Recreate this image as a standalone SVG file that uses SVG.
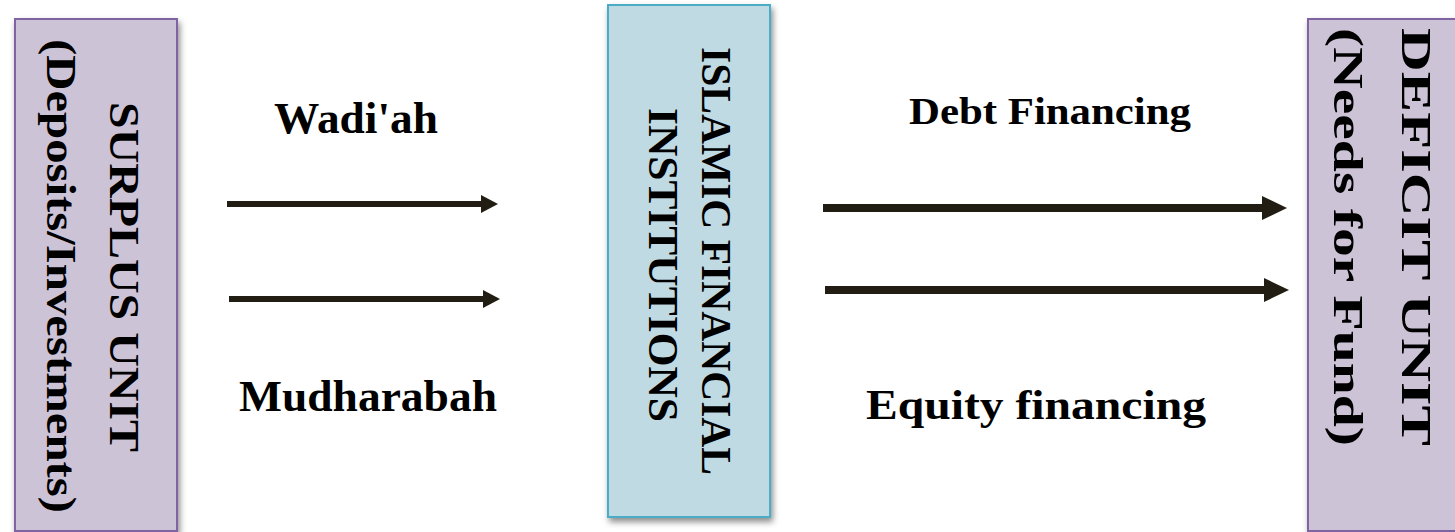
<svg xmlns="http://www.w3.org/2000/svg" width="1455" height="532" viewBox="0 0 1455 532">
  <style>
    .unit { fill: #ccc3d7; stroke: #8064a2; stroke-width: 2; }
    .inst { fill: #c0dae3; stroke: #4bacc6; stroke-width: 2; }
    .vt { font-family: "Liberation Serif", "Times New Roman", serif; font-weight: bold; fill: #000; text-anchor: middle; }
    .lbl { font-family: "Liberation Serif", "Times New Roman", serif; font-weight: bold; fill: #000; }
    .arr { stroke: #211d12; fill: none; }
    .head { fill: #211d12; }
  </style>
  <defs>
    <filter id="sh" x="-10%" y="-5%" width="130%" height="115%">
      <feDropShadow dx="2" dy="4" stdDeviation="3" flood-color="#000" flood-opacity="0.45"/>
    </filter>
    <marker id="ahS" markerUnits="userSpaceOnUse" markerWidth="17" markerHeight="18" refX="0" refY="9" orient="auto">
      <path class="head" d="M0,0 L17,9 L0,18 Z"/>
    </marker>
    <marker id="ahL" markerUnits="userSpaceOnUse" markerWidth="25" markerHeight="24" refX="0" refY="12" orient="auto">
      <path class="head" d="M0,0 L25,12 L0,24 Z"/>
    </marker>
  </defs>

  <g id="surplus">
    <rect class="unit" x="15" y="19" width="162" height="512" filter="url(#sh)"/>
    <text class="vt" font-size="43" transform="translate(110,277) rotate(90)" textLength="350" lengthAdjust="spacingAndGlyphs">SURPLUS UNIT</text>
    <text class="vt" font-size="43" transform="translate(47,276) rotate(90)" textLength="474" lengthAdjust="spacingAndGlyphs">(Deposits/Investments)</text>
  </g>

  <g id="institutions">
    <rect class="inst" x="608" y="5" width="162" height="512" filter="url(#sh)"/>
    <text class="vt" font-size="42" transform="translate(702,261) rotate(90)" textLength="428" lengthAdjust="spacingAndGlyphs">ISLAMIC FINANCIAL</text>
    <text class="vt" font-size="42" transform="translate(649,265) rotate(90)" textLength="314" lengthAdjust="spacingAndGlyphs">INSTITUTIONS</text>
  </g>

  <g id="deficit">
    <rect class="unit" x="1308" y="19" width="160" height="512" filter="url(#sh)"/>
    <text class="vt" font-size="42" transform="translate(1402,237) rotate(90)" textLength="418" lengthAdjust="spacingAndGlyphs">DEFICIT UNIT</text>
    <text class="vt" font-size="42" transform="translate(1334,237) rotate(90)" textLength="418" lengthAdjust="spacingAndGlyphs">(Needs for Fund)</text>
  </g>

  <g id="connectors">
    <line class="arr" x1="227" y1="204" x2="481" y2="204" stroke-width="6" marker-end="url(#ahS)"/>
    <line class="arr" x1="229" y1="299" x2="483" y2="299" stroke-width="6" marker-end="url(#ahS)"/>
    <line class="arr" x1="823" y1="208" x2="1262" y2="208" stroke-width="8" marker-end="url(#ahL)"/>
    <line class="arr" x1="825" y1="290" x2="1264" y2="290" stroke-width="8" marker-end="url(#ahL)"/>
  </g>

  <g id="labels">
    <text class="lbl" x="274" y="133" font-size="44" textLength="164" lengthAdjust="spacingAndGlyphs">Wadi'ah</text>
    <text class="lbl" x="239" y="411" font-size="44" textLength="258" lengthAdjust="spacingAndGlyphs">Mudharabah</text>
    <text class="lbl" x="909" y="124" font-size="38" textLength="282" lengthAdjust="spacingAndGlyphs">Debt Financing</text>
    <text class="lbl" x="866" y="419" font-size="42" textLength="340" lengthAdjust="spacingAndGlyphs">Equity financing</text>
  </g>
</svg>
